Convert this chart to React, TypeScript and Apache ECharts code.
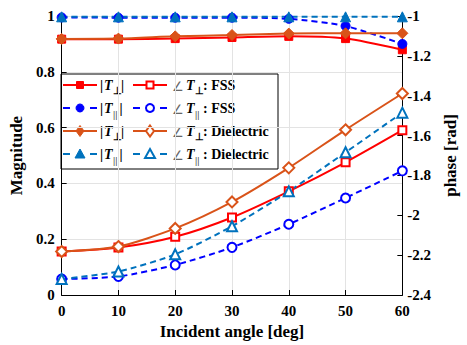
import React, { useEffect, useRef } from "react";
import * as echarts from "echarts";

// Incident angle samples (deg)
const angles = [0, 10, 20, 30, 40, 50, 60];

// Transmission magnitude (left axis)
const magPerpFss = [0.917, 0.917, 0.919, 0.923, 0.927, 0.919, 0.879];
const magParFss = [0.995, 0.994, 0.994, 0.994, 0.99, 0.964, 0.9];
const magPerpDiel = [0.918, 0.919, 0.927, 0.932, 0.937, 0.938, 0.938];
const magParDiel = [0.997, 0.997, 0.997, 0.997, 0.997, 0.997, 0.997];

// Transmission phase in rad (right axis)
const phPerpFss = [-2.182, -2.162, -2.108, -2.011, -1.88, -1.734, -1.573];
const phParFss = [-2.32, -2.307, -2.249, -2.161, -2.045, -1.913, -1.777];
const phPerpDiel = [-2.182, -2.157, -2.066, -1.933, -1.762, -1.571, -1.389];
const phParDiel = [-2.32, -2.282, -2.196, -2.055, -1.88, -1.684, -1.485];

const RED = "#FF0000";
const BLUE = "#0000FF";
const ORANGE = "#D95319";
const LBLUE = "#0072BD";

const FONT = "Liberation Serif, serif";
const DASH = [6, 4];

const pairs = (ys: number[]) => angles.map((a, i) => [a, ys[i]]);

type Spec = {
  data: number[];
  axis: number;
  color: string;
  dashed: boolean;
  symbol: string;
  size: number;
  filled: boolean;
};

const specs: Spec[] = [
  { data: magPerpFss, axis: 0, color: RED, dashed: false, symbol: "rect", size: 8, filled: true },
  { data: magParFss, axis: 0, color: BLUE, dashed: true, symbol: "circle", size: 9, filled: true },
  { data: magPerpDiel, axis: 0, color: ORANGE, dashed: false, symbol: "diamond", size: 11, filled: true },
  { data: magParDiel, axis: 0, color: LBLUE, dashed: true, symbol: "triangle", size: 10, filled: true },
  { data: phPerpFss, axis: 1, color: RED, dashed: false, symbol: "rect", size: 8, filled: false },
  { data: phParFss, axis: 1, color: BLUE, dashed: true, symbol: "circle", size: 9, filled: false },
  { data: phPerpDiel, axis: 1, color: ORANGE, dashed: false, symbol: "diamond", size: 11, filled: false },
  { data: phParDiel, axis: 1, color: LBLUE, dashed: true, symbol: "triangle", size: 10, filled: false },
];

// Marker shapes used inside the legend box
function legendMarker(kind: string, cx: number, cy: number, color: string, filled: boolean): any {
  const style = {
    fill: filled ? color : "#fff",
    stroke: color,
    lineWidth: filled ? 1 : 2,
  };
  if (kind === "rect") {
    return { type: "rect", shape: { x: cx - 3.5, y: cy - 3.5, width: 7, height: 7 }, style };
  }
  if (kind === "circle") {
    return { type: "circle", shape: { cx, cy, r: 4 }, style };
  }
  if (kind === "diamond") {
    return {
      type: "polygon",
      shape: { points: [[cx, cy - 5.5], [cx + 4, cy], [cx, cy + 5.5], [cx - 4, cy]] },
      style,
    };
  }
  return {
    type: "polygon",
    shape: { points: [[cx, cy - 5], [cx + 5, cy + 4], [cx - 5, cy + 4]] },
    style,
  };
}

function legendLine(x1: number, x2: number, y: number, color: string, dashed: boolean): any[] {
  if (dashed) {
    return [
      { type: "line", shape: { x1, y1: y, x2: x1 + 7, y2: y }, style: { stroke: color, lineWidth: 2 } },
      { type: "line", shape: { x1: x2 - 7, y1: y, x2, y2: y }, style: { stroke: color, lineWidth: 2 } },
    ];
  }
  return [{ type: "line", shape: { x1, y1: y, x2, y2: y }, style: { stroke: color, lineWidth: 2 } }];
}

function txt(text: string, x: number, y: number, font: string, fill = "#000"): any {
  return {
    type: "text",
    x,
    y,
    style: { text, font, fill, align: "left", verticalAlign: "middle" },
  };
}

const MAIN = `bold 14px ${FONT}`;
const ITAL = `italic bold 14px ${FONT}`;

function subscript(perp: boolean, x: number, y: number): any {
  return perp
    ? txt("\u22A5", x, y + 5, `bold 10px ${FONT}`)
    : txt("||", x + 0.5, y + 6, `11px ${FONT}`);
}

function buildLegend(): any[] {
  const rows = [85, 108, 131, 154];
  const els: any[] = [
    {
      type: "rect",
      shape: { x: 61, y: 74, width: 217, height: 95 },
      style: { fill: "#fff", stroke: "#000", lineWidth: 1 },
    },
  ];
  const suffix = [": FSS", ": FSS", ": Dielectric", ": Dielectric"];
  rows.forEach((y, r) => {
    const mag = specs[r];
    const ph = specs[r + 4];
    const perp = r % 2 === 0;
    // magnitude column
    els.push(...legendLine(63, 97, y, mag.color, mag.dashed));
    els.push(legendMarker(mag.symbol, 80, y, mag.color, true));
    els.push(txt("|", 100, y, MAIN));
    els.push(txt("T", 104, y, ITAL));
    els.push(subscript(perp, 112.5, y));
    els.push(txt("|", perp ? 121 : 119.5, y, MAIN));
    // phase column
    els.push(...legendLine(133, 167, y, ph.color, ph.dashed));
    els.push(legendMarker(ph.symbol, 150, y, ph.color, false));
    els.push(txt("\u2220", 172, y + 1, `13px ${FONT}`, "#666"));
    els.push(txt("T", 186, y, ITAL));
    els.push(subscript(perp, 194.5, y));
    els.push(txt(suffix[r], 203, y, MAIN));
  });
  return [{ type: "group", z: 100, children: els }];
}

const axisLabelStyle = {
  color: "#000",
  fontFamily: FONT,
  fontWeight: "bold" as const,
  fontSize: 15,
};

const nameStyle = {
  color: "#000",
  fontFamily: FONT,
  fontWeight: "bold" as const,
  fontSize: 17,
};

export default function App() {
  const ref = useRef<HTMLDivElement>(null);

  useEffect(() => {
    if (!ref.current) return;
    const chart = echarts.init(ref.current, undefined, { renderer: "svg" });

    const series = specs.map((s) => ({
      type: "line",
      yAxisIndex: s.axis,
      data: pairs(s.data),
      smooth: 0.25,
      symbol: s.symbol,
      symbolSize: s.size,
      showAllSymbol: true,
      clip: false,
      lineStyle: { color: s.color, width: 2, type: s.dashed ? DASH : "solid" },
      itemStyle: {
        color: s.filled ? s.color : "#fff",
        borderColor: s.color,
        borderWidth: s.filled ? 1 : 2,
      },
      emphasis: { disabled: true },
    }));

    chart.setOption({
      animation: false,
      backgroundColor: "#fff",
      grid: { left: 57, right: 54, top: 16, bottom: 48, containLabel: false },
      xAxis: {
        type: "value",
        min: 0,
        max: 60,
        interval: 10,
        name: "Incident angle [deg]",
        nameLocation: "middle",
        nameGap: 28,
        nameTextStyle: nameStyle,
        axisLine: { show: true, lineStyle: { color: "#000", width: 1 } },
        axisTick: { show: true, inside: true, length: 5, lineStyle: { color: "#000" } },
        axisLabel: { ...axisLabelStyle, margin: 8 },
        splitLine: { show: true, lineStyle: { color: "#e3e3e3", width: 1 } },
      },
      yAxis: [
        {
          type: "value",
          position: "left",
          min: 0,
          max: 1,
          interval: 0.2,
          name: "Magnitude",
          nameLocation: "middle",
          nameRotate: 90,
          nameGap: 31,
          nameTextStyle: nameStyle,
          axisLine: { show: true, lineStyle: { color: "#000", width: 1 } },
          axisTick: { show: true, inside: true, length: 5, lineStyle: { color: "#000" } },
          axisLabel: { ...axisLabelStyle, margin: 7 },
          splitLine: { show: true, lineStyle: { color: "#e3e3e3", width: 1 } },
        },
        {
          type: "value",
          position: "right",
          min: -2.4,
          max: -1,
          interval: 0.2,
          name: "phase [rad]",
          nameLocation: "middle",
          nameRotate: 90,
          nameGap: 36,
          nameTextStyle: nameStyle,
          axisLine: { show: true, lineStyle: { color: "#000", width: 1 } },
          axisTick: { show: true, inside: true, length: 5, lineStyle: { color: "#000" } },
          axisLabel: { ...axisLabelStyle, margin: 5 },
          splitLine: { show: false },
        },
      ],
      series,
      graphic: buildLegend(),
    });

    return () => chart.dispose();
  }, []);

  return (
    <div
      ref={ref}
      style={{ position: "fixed", left: 0, top: 0, width: 467, height: 345 }}
    />
  );
}
